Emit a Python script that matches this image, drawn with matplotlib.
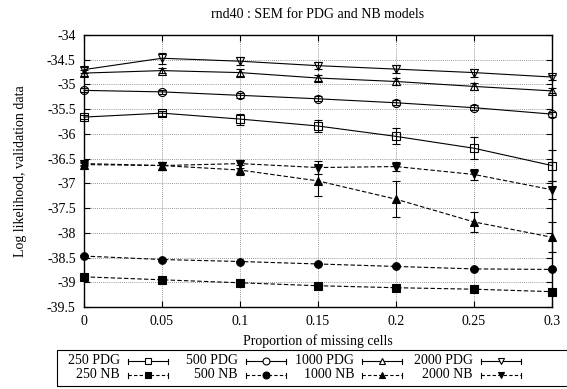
import matplotlib
matplotlib.use("Agg")
import matplotlib.pyplot as plt
from matplotlib.lines import Line2D
from matplotlib.patches import Rectangle

plt.rcParams['font.family'] = 'Liberation Serif'
plt.rcParams['font.size'] = 10

props = [0, 0.05, 0.1, 0.15, 0.2, 0.25, 0.3]

# PDG models
pdg_250 = [-35.66, -35.58, -35.70, -35.84, -36.05, -36.29, -36.64]
pdg_250_err = [0.04, 0.05, 0.11, 0.12, 0.16, 0.22, 0.32]
pdg_500 = [-35.12, -35.15, -35.22, -35.29, -35.37, -35.47, -35.60]
pdg_500_err = [0.04, 0.04, 0.05, 0.05, 0.05, 0.05, 0.05]
pdg_1000 = [-34.77, -34.72, -34.76, -34.87, -34.94, -35.04, -35.13]
pdg_1000_err = [0.06, 0.05, 0.07, 0.06, 0.07, 0.07, 0.05]
pdg_2000 = [-34.70, -34.47, -34.53, -34.62, -34.69, -34.76, -34.85]
pdg_2000_err = [0.06, 0.11, 0.08, 0.07, 0.08, 0.08, 0.05]

# NB models
nb_250 = [-38.89, -38.95, -39.01, -39.07, -39.11, -39.14, -39.19]
nb_250_err = [0.02, 0.02, 0.02, 0.02, 0.02, 0.02, 0.02]
nb_500 = [-38.47, -38.54, -38.58, -38.63, -38.68, -38.73, -38.74]
nb_500_err = [0.02, 0.02, 0.02, 0.02, 0.02, 0.02, 0.02]
nb_1000 = [-36.62, -36.64, -36.73, -36.95, -37.32, -37.78, -38.09]
nb_1000_err = [0.03, 0.08, 0.10, 0.30, 0.36, 0.20, 0.30]
nb_2000 = [-36.60, -36.64, -36.60, -36.68, -36.66, -36.82, -37.13]
nb_2000_err = [0.03, 0.08, 0.08, 0.13, 0.10, 0.12, 0.18]

sizes = ["250", "500", "1000", "2000"]
markers = ['s', 'o', '^', 'v']

W, H = 567, 389
fig = plt.figure(figsize=(W / 100, H / 100), dpi=100)
ax = fig.add_axes([84 / W, 1 - 307 / H, (552 - 84) / W, (307 - 35) / H])

pdg = [(pdg_250, pdg_250_err), (pdg_500, pdg_500_err),
       (pdg_1000, pdg_1000_err), (pdg_2000, pdg_2000_err)]
nb = [(nb_250, nb_250_err), (nb_500, nb_500_err),
      (nb_1000, nb_1000_err), (nb_2000, nb_2000_err)]

for (vals, err), mk in zip(pdg, markers):
    ax.errorbar(props, vals, yerr=err, fmt=mk, ls='-', color='black', lw=0.8,
                elinewidth=0.8, capsize=3, capthick=0.8, ms=5.8,
                mfc='none', mew=0.8, clip_on=False, zorder=3)
for (vals, err), mk in zip(nb, markers):
    ax.errorbar(props, vals, yerr=err, fmt=mk, ls='--', dashes=(4, 2), color='black',
                lw=0.8, elinewidth=0.8, capsize=3, capthick=0.8, ms=5.5,
                mfc='black', mew=0.8, clip_on=False, zorder=3)

ax.set_xlim(0, 0.3)
ax.set_ylim(-39.5, -34)
ax.set_xticks(props)
ax.set_xticklabels(["0", "0.05", "0.1", "0.15", "0.2", "0.25", "0.3"])
ax.set_yticks([-34 - 0.5 * i for i in range(12)])
ax.set_yticklabels(["-34", "-34.5", "-35", "-35.5", "-36", "-36.5", "-37",
                    "-37.5", "-38", "-38.5", "-39", "-39.5"])
ax.tick_params(direction='in', top=True, right=True, length=4, width=0.8, labelsize=10, pad=6)
ax.grid(True, color='#777777', ls=(0, (1, 1.5)), lw=0.6)
for s in ax.spines.values():
    s.set_linewidth(1.0)

ax.set_title("rnd40 : SEM for PDG and NB models", fontsize=10, pad=12)
ax.set_xlabel("Proportion of missing cells", fontsize=10, labelpad=4)
ax.set_ylabel("Log likelihood, validation data", fontsize=10, labelpad=14)


# key box at the bottom, drawn in pixel coordinates (gnuplot style samples)
def px(x, y):
    return x / W, 1 - y / H


def key_entry(text_right, y, label, marker, filled):
    fx, fy = px(text_right, y)
    fig.text(fx, fy, label, ha='right', va='center', fontsize=10)
    x0, x1 = text_right + 8, text_right + 48
    ls = (0, (3, 2)) if filled else '-'
    (a, b), (c, d) = px(x0, y), px(x1, y)
    fig.add_artist(Line2D([a, c], [b, d], color='black', lw=0.8, ls=ls))
    for xe in (x0, x1):
        (a, b), (c, d) = px(xe, y - 2.5), px(xe, y + 2.5)
        fig.add_artist(Line2D([a, c], [b, d], color='black', lw=0.8))
    mx, my = px((x0 + x1) / 2, y)
    fig.add_artist(Line2D([mx], [my], marker=marker, ms=5, color='black',
                          mfc='black' if filled else 'white', mew=0.8))


fig.add_artist(Rectangle(px(57, 386), (W + 10 - 57) / W, 36 / H, fill=False,
                         edgecolor='black', lw=0.8, transform=fig.transFigure))
col_right = [120, 238, 354, 473]
for xr, size, mk in zip(col_right, sizes, markers):
    key_entry(xr, 361, size + " PDG", mk, False)
    key_entry(xr, 375, size + " NB", mk, True)

fig.savefig("out.png", dpi=100)
